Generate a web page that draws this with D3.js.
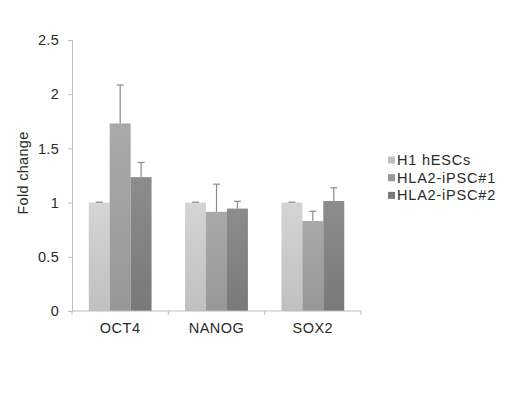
<!DOCTYPE html>
<html>
<head>
<meta charset="utf-8">
<script src="https://cdn.jsdelivr.net/npm/d3@7"></script>
<style>
  body { margin: 0; background: #fff; }
  text { font-family: "Liberation Sans", Arial, sans-serif; fill: #2a2a2a; }
</style>
</head>
<body>
<div id="chart"></div>
<script>
// data
const genes = ["OCT4", "NANOG", "SOX2"];
const lines = ["H1 hESCs", "HLA2-iPSC#1", "HLA2-iPSC#2"];
const h1Vals = [1, 1, 1];
const h1Err = [0.004, 0.004, 0.004];
const ipsc1Vals = [1.73, 0.915, 0.83];
const ipsc1Err = [0.355, 0.255, 0.09];
const ipsc2Vals = [1.235, 0.945, 1.015];
const ipsc2Err = [0.135, 0.067, 0.122];
const yTicks = [0, 0.5, 1, 1.5, 2, 2.5];

const width = 508, height = 394;
const colors = [["#d4d4d4", "#c0c0c0"], ["#a9a9a9", "#979797"], ["#8c8c8c", "#797979"]];

const rows = [];
[[h1Vals, h1Err], [ipsc1Vals, ipsc1Err], [ipsc2Vals, ipsc2Err]].forEach((s, si) => {
  genes.forEach((g, gi) => rows.push({ gene: g, line: lines[si], si: si, v: s[0][gi], e: s[1][gi] }));
});

const svg = d3.select("#chart").append("svg")
  .attr("width", width)
  .attr("height", height);

const defs = svg.append("defs");
colors.forEach((c, i) => {
  const lg = defs.append("linearGradient").attr("id", "g" + i)
    .attr("x1", 0).attr("y1", 0).attr("x2", 0).attr("y2", 1);
  lg.append("stop").attr("offset", "0%").attr("stop-color", c[0]);
  lg.append("stop").attr("offset", "100%").attr("stop-color", c[1]);
});

const x = d3.scaleBand().domain(genes).range([72, 361]).paddingInner(0).paddingOuter(0);
const xs = d3.scaleBand().domain(lines).range([0, x.bandwidth()]).paddingOuter(0.8).paddingInner(0);
const y = d3.scaleLinear().domain([0, 2.5]).range([311, 40]);

// bars
svg.append("g").selectAll("rect")
  .data(rows)
  .enter()
  .append("rect")
  .attr("x", d => x(d.gene) + xs(d.line))
  .attr("width", xs.bandwidth())
  .attr("y", d => y(d.v))
  .attr("height", d => y(0) - y(d.v))
  .attr("fill", d => "url(#g" + d.si + ")");

// error bars (upper only)
const eb = svg.append("g").attr("stroke", "#8a8a8a").attr("stroke-width", 1.2);
rows.forEach(d => {
  const cx = x(d.gene) + xs(d.line) + xs.bandwidth() / 2;
  eb.append("line").attr("x1", cx).attr("x2", cx).attr("y1", y(d.v)).attr("y2", y(d.v + d.e));
  eb.append("line").attr("x1", cx - 3.5).attr("x2", cx + 3.5).attr("y1", y(d.v + d.e)).attr("y2", y(d.v + d.e));
});

// y axis
const ya = svg.append("g").attr("transform", "translate(72,0)")
  .call(d3.axisLeft(y).tickValues(yTicks).tickSize(4).tickPadding(9).tickFormat(d3.format("")));
ya.select(".domain").attr("stroke", "#bdbdbd");
ya.selectAll(".tick line").attr("stroke", "#bdbdbd");
ya.selectAll("text").style("font-size", "14.5px").style("letter-spacing", "0.3px");

// x axis
const xa = svg.append("g").attr("transform", "translate(0,311)");
xa.append("line").attr("x1", 72).attr("x2", 361).attr("stroke", "#bdbdbd");
xa.selectAll(".tk").data([72].concat(genes.map(g => x(g) + x.bandwidth())))
  .enter().append("line")
  .attr("x1", d => d).attr("x2", d => d).attr("y1", 0).attr("y2", 4)
  .attr("stroke", "#bdbdbd");
xa.selectAll("text").data(genes).enter().append("text")
  .attr("x", d => x(d) + x.bandwidth() / 2)
  .attr("y", 22)
  .attr("text-anchor", "middle")
  .style("font-size", "14.5px")
  .style("letter-spacing", "0.5px")
  .text(d => d);

// y title
svg.append("text")
  .attr("transform", "translate(28,173) rotate(-90)")
  .attr("text-anchor", "middle")
  .style("font-size", "14.5px")
  .style("letter-spacing", "0.3px")
  .text("Fold change");

// legend
const lg = svg.append("g").attr("transform", "translate(388,160)");
lines.forEach((l, i) => {
  const row = lg.append("g").attr("transform", "translate(0," + i * 17.7 + ")");
  row.append("rect").attr("x", 0).attr("y", -3.5).attr("width", 7).attr("height", 7)
    .attr("fill", colors[i][1]);
  row.append("text").attr("x", 9).attr("y", 5)
    .style("font-size", "14.5px")
    .style("letter-spacing", "0.8px")
    .text(l);
});
</script>
</body>
</html>
